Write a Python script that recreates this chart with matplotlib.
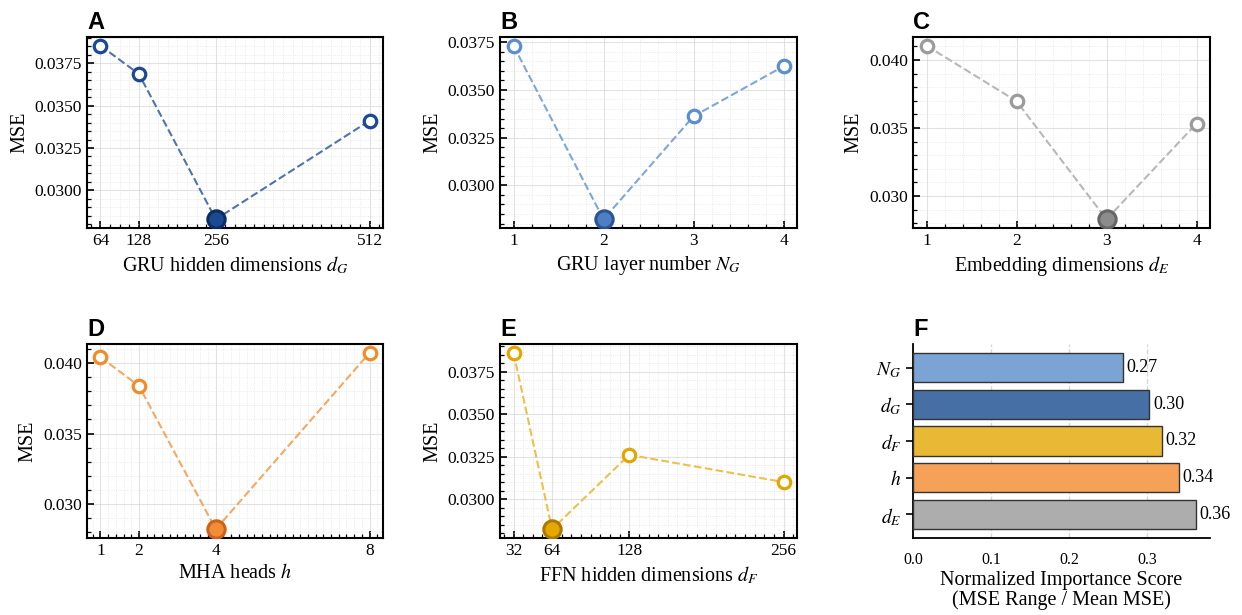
import matplotlib
matplotlib.use("Agg")
import matplotlib.pyplot as plt
from matplotlib.ticker import AutoMinorLocator, MultipleLocator, FormatStrFormatter

plt.rcParams["font.family"] = ["Liberation Serif", "DejaVu Serif"]
plt.rcParams["mathtext.fontset"] = "stix"

# Hyper-parameter sweeps (validation MSE)
dg_values = [64, 128, 256, 512]
dg_mse = [0.03854, 0.03687, 0.02829, 0.03411]

ng_values = [1, 2, 3, 4]
ng_mse = [0.03732, 0.02822, 0.03362, 0.03624]

de_values = [1, 2, 3, 4]
de_mse = [0.04105, 0.03697, 0.02828, 0.03532]

h_values = [1, 2, 4, 8]
h_mse = [0.04043, 0.03839, 0.02820, 0.04074]

df_values = [32, 64, 128, 256]
df_mse = [0.03860, 0.02823, 0.03260, 0.03100]

# Importance ranking
imp_labels = [r"$N_G$", r"$d_G$", r"$d_F$", r"$h$", r"$d_E$"]
imp_scores = [0.269, 0.303, 0.319, 0.341, 0.363]
imp_colors = ["#7BA3D4", "#466FA6", "#E9B935", "#F5A258", "#ADADAD"]

W, H = 1242, 615
fig = plt.figure(figsize=(W / 100, H / 100), dpi=100)

def box(l, t, r, b):
    return [l / W, 1 - b / H, (r - l) / W, (b - t) / H]

panels = [
    dict(letter="A", pos=box(87, 37, 383, 228), x=dg_values, y=dg_mse,
         xlabel=r"GRU hidden dimensions $d_G$", step=0.0025, fmt="%.4f",
         edge="#1B4A93", line="#4F74AA", fill="#1B4A93", fedge="#0C2C66"),
    dict(letter="B", pos=box(500, 37, 797, 228), x=ng_values, y=ng_mse,
         xlabel=r"GRU layer number $N_G$", step=0.0025, fmt="%.4f",
         edge="#5B8ED0", line="#7FA6D8", fill="#4F7FC2", fedge="#2A5595"),
    dict(letter="C", pos=box(913, 37, 1210, 228), x=de_values, y=de_mse,
         xlabel=r"Embedding dimensions $d_E$", step=0.005, fmt="%.3f",
         edge="#9B9B9B", line="#B8B8B8", fill="#8C8C8C", fedge="#666666"),
    dict(letter="D", pos=box(87, 344, 383, 538), x=h_values, y=h_mse,
         xlabel=r"MHA heads $h$", step=0.005, fmt="%.3f",
         edge="#F28C28", line="#F5A860", fill="#F28C36", fedge="#C9631B"),
    dict(letter="E", pos=box(500, 344, 797, 538), x=df_values, y=df_mse,
         xlabel=r"FFN hidden dimensions $d_F$", step=0.0025, fmt="%.4f",
         edge="#E3A600", line="#EDC04A", fill="#E5A800", fedge="#A87A00"),
]

for p in panels:
    ax = fig.add_axes(p["pos"])
    xs, ys = p["x"], p["y"]
    ax.plot(xs, ys, linestyle="--", color=p["line"], linewidth=1.5, zorder=2)
    imin = ys.index(min(ys))
    others = [i for i in range(len(xs)) if i != imin]
    ax.plot([xs[i] for i in others], [ys[i] for i in others], linestyle="none",
            marker="o", markersize=9, markerfacecolor="white",
            markeredgecolor=p["edge"], markeredgewidth=2.3, zorder=3)
    ax.plot([xs[imin]], [ys[imin]], linestyle="none", marker="o",
            markersize=12.5, markerfacecolor=p["fill"],
            markeredgecolor=p["fedge"], markeredgewidth=2.2, zorder=4)
    ax.set_xticks(xs)
    ax.set_xticklabels([str(v) for v in xs])
    ax.xaxis.set_minor_locator(AutoMinorLocator())
    ax.yaxis.set_major_locator(MultipleLocator(p["step"]))
    ax.yaxis.set_major_formatter(FormatStrFormatter(p["fmt"]))
    ax.yaxis.set_minor_locator(AutoMinorLocator(5))
    ax.tick_params(which="both", direction="in", top=False, right=False,
                   labelsize=12.5)
    ax.tick_params(which="major", length=5, width=1.2)
    ax.tick_params(which="minor", length=3, width=0.9)
    ax.grid(which="major", color="#d6d6d6", linewidth=0.8, alpha=0.7)
    ax.grid(which="minor", color="#dedede", linewidth=0.6, linestyle=":",
            alpha=0.8)
    ax.set_axisbelow(True)
    for s in ax.spines.values():
        s.set_linewidth(1.5)
    ax.set_xlabel(p["xlabel"], fontsize=14.5)
    ax.set_ylabel("MSE", fontsize=14.5)
    ax.text(0, 1.015, p["letter"], transform=ax.transAxes, ha="left",
            va="bottom", fontsize=17, fontweight="bold",
            family=["Liberation Sans", "DejaVu Sans"])

# Importance panel
axf = fig.add_axes(box(913, 344, 1210, 538))
ypos = list(range(len(imp_scores)))
axf.barh(ypos, imp_scores, height=0.8, color=imp_colors, edgecolor="#333333",
         linewidth=1.0, zorder=3)
for yi, v in zip(ypos, imp_scores):
    axf.text(v + 0.005, yi, f"{v:.2f}", va="center", ha="left", fontsize=13)
axf.set_yticks(ypos)
axf.set_yticklabels(imp_labels, fontsize=14)
axf.invert_yaxis()
axf.set_xticks([0.0, 0.1, 0.2, 0.3])
axf.xaxis.set_major_formatter(FormatStrFormatter("%.1f"))
axf.tick_params(axis="x", labelsize=11.5, length=0, pad=10)
axf.tick_params(axis="y", length=5, width=1.2)
axf.spines["top"].set_visible(False)
axf.spines["right"].set_visible(False)
axf.spines["left"].set_linewidth(1.3)
axf.spines["bottom"].set_linewidth(1.3)
axf.grid(axis="x", linestyle="--", color="#d8d8d8", linewidth=1.0, zorder=0)
axf.set_axisbelow(True)
axf.set_xlabel("Normalized Importance Score\n(MSE Range / Mean MSE)",
               fontsize=14.5, labelpad=2, linespacing=1.05)
axf.text(0, 1.015, "F", transform=axf.transAxes, ha="left", va="bottom",
         fontsize=17, fontweight="bold",
         family=["Liberation Sans", "DejaVu Sans"])

fig.savefig("out.png", dpi=100, facecolor="white")
